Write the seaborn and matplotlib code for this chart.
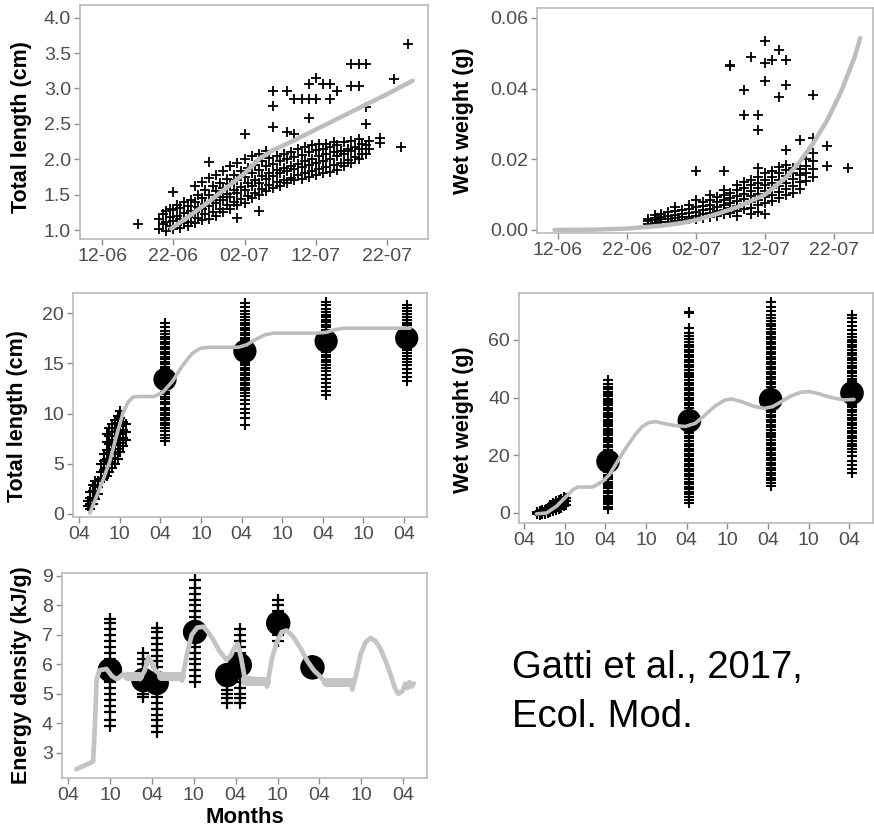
import matplotlib
matplotlib.use("Agg")
import matplotlib.pyplot as plt
import numpy as np
import pandas as pd
import seaborn as sns

# ---------------- Panel A: juvenile total length (cm) vs date (days after 12 June)
tl_days = [5, 8, 8.5, 9, 9.5, 10, 10.5, 11, 11.5, 12, 12.5, 13, 13.5, 14, 14.5, 15, 15.5,
           16, 16.5, 17, 17.5, 18, 18.5, 19, 19.5, 20, 20.5, 21, 21.5, 22, 22.5, 23, 23.5,
           24, 24.5, 25, 25.5, 26, 26.5, 27, 27.5, 28, 28.5, 29, 29.5, 30, 30.5, 31, 31.5,
           32, 32.5, 33, 33.5, 34, 34.5, 35, 35.5, 36, 36.5, 37, 37.5, 39, 41, 42, 43]
tl_values = [
    [1.09],
    [1.02, 1.15], [1.08, 1.22],
    [0.99, 1.12, 1.27], [1.05, 1.18, 1.30],
    [1.01, 1.13, 1.28, 1.54], [1.07, 1.20, 1.35],
    [1.03, 1.16, 1.31], [1.10, 1.24, 1.40],
    [1.06, 1.19, 1.34], [1.12, 1.27, 1.43],
    [1.10, 1.25, 1.40, 1.62], [1.17, 1.32, 1.50],
    [1.14, 1.30, 1.45, 1.68], [1.22, 1.37, 1.57],
    [1.16, 1.34, 1.50, 1.74, 1.96], [1.25, 1.42, 1.62],
    [1.20, 1.38, 1.55, 1.78], [1.30, 1.46, 1.67],
    [1.26, 1.43, 1.60, 1.84], [1.35, 1.51, 1.72],
    [1.30, 1.47, 1.65, 1.90], [1.39, 1.56, 1.78],
    [1.17, 1.36, 1.52, 1.70, 1.95], [1.44, 1.61, 1.83],
    [1.38, 1.57, 1.75, 2.00, 2.36], [1.48, 1.66, 1.88],
    [1.45, 1.62, 1.80, 2.04], [1.53, 1.71, 1.92],
    [1.27, 1.50, 1.67, 1.85, 2.08], [1.58, 1.76, 1.97],
    [1.55, 1.72, 1.90, 2.12], [1.63, 1.80, 2.02],
    [1.60, 1.77, 1.94, 2.46, 2.75, 2.96], [1.68, 1.85, 2.04],
    [1.62, 1.80, 1.97], [1.71, 1.88, 2.07],
    [1.66, 1.83, 2.00, 2.38, 2.96], [1.74, 1.91, 2.10],
    [1.70, 1.86, 2.03, 2.35, 2.85], [1.78, 1.94, 2.14],
    [1.72, 1.89, 2.06, 2.85], [1.80, 1.97, 2.18],
    [1.75, 1.92, 2.10, 2.58, 2.85, 3.06], [1.83, 2.00, 2.20],
    [1.78, 1.95, 2.13, 2.85, 3.15], [1.86, 2.04, 2.22],
    [1.80, 1.98, 2.15, 3.06], [1.89, 2.07, 2.22],
    [1.82, 2.01, 2.18, 2.85, 3.06], [1.92, 2.10, 2.25],
    [1.85, 2.04, 2.20, 2.96], [1.95, 2.12],
    [1.90, 2.08, 2.24], [1.99, 2.15],
    [1.95, 2.11, 2.26, 3.34, 3.04], [2.03, 2.18],
    [2.00, 2.15, 2.28, 3.34, 3.04], [2.08, 2.22],
    [2.08, 2.20, 3.34, 2.74, 2.50], [2.14, 2.26],
    [2.23, 2.30],
    [3.14],
    [2.18],
    [3.63],
]
tl_fit_day = [9.7, 12, 15, 18, 20, 22, 24, 26, 30, 35, 40, 43.6]
tl_fit_len = [1.02, 1.18, 1.40, 1.64, 1.80, 2.00, 2.13, 2.22, 2.42, 2.67, 2.92, 3.11]

# ---------------- Panel B: juvenile wet weight (g) vs date
ww_days = [13, 14, 15, 16, 17, 18, 19, 20, 21, 22, 23, 24, 25, 26, 27, 28, 29, 30,
           31, 32, 33, 34, 35, 36, 37, 39, 42]
ww_values = [
    [0.0018, 0.0025, 0.0032],
    [0.0020, 0.0028, 0.0035, 0.0042],
    [0.0022, 0.0030, 0.0038, 0.0046],
    [0.0024, 0.0032, 0.0040, 0.0050],
    [0.0026, 0.0034, 0.0043, 0.0055, 0.0065],
    [0.0028, 0.0036, 0.0045, 0.0056],
    [0.0030, 0.0038, 0.0048, 0.0060, 0.0072],
    [0.0032, 0.0041, 0.0052, 0.0064, 0.0085, 0.0166],
    [0.0035, 0.0045, 0.0056, 0.0068, 0.0080],
    [0.0038, 0.0049, 0.0060, 0.0072, 0.0086, 0.0100],
    [0.0041, 0.0053, 0.0065, 0.0078, 0.0092],
    [0.0045, 0.0057, 0.0070, 0.0084, 0.0098, 0.0112, 0.0166],
    [0.0049, 0.0062, 0.0075, 0.0090, 0.0105, 0.0463, 0.0466],
    [0.0040, 0.0054, 0.0068, 0.0082, 0.0096, 0.0112, 0.0128],
    [0.0058, 0.0073, 0.0088, 0.0103, 0.0118, 0.0135, 0.0397, 0.0326],
    [0.0045, 0.0063, 0.0079, 0.0095, 0.0110, 0.0126, 0.0142, 0.0489],
    [0.0050, 0.0070, 0.0086, 0.0102, 0.0118, 0.0134, 0.0150, 0.0326, 0.0283, 0.0175],
    [0.0045, 0.0076, 0.0093, 0.0110, 0.0126, 0.0142, 0.0160, 0.0536, 0.0473, 0.0422],
    [0.0082, 0.0100, 0.0118, 0.0134, 0.0150, 0.0168, 0.0480],
    [0.0090, 0.0108, 0.0125, 0.0142, 0.0160, 0.0178, 0.0508, 0.0375],
    [0.0098, 0.0116, 0.0134, 0.0152, 0.0170, 0.0185, 0.0480, 0.0409, 0.0227],
    [0.0106, 0.0125, 0.0143, 0.0160, 0.0176],
    [0.0115, 0.0135, 0.0155, 0.0172, 0.0255],
    [0.0140, 0.0160, 0.0180, 0.0200],
    [0.0150, 0.0172, 0.0195, 0.0217, 0.0260, 0.0383],
    [0.0238, 0.0181],
    [0.0175],
]
ww_fit_day = [-0.5, 5, 10, 15, 18, 20, 23, 26, 30, 33, 35, 37, 39, 41, 43, 43.8]
ww_fit_val = [0.0, 0.0001, 0.0004, 0.0012, 0.0020, 0.0028, 0.0045, 0.0065, 0.0100,
              0.0148, 0.0192, 0.0246, 0.031, 0.039, 0.049, 0.0543]

date_ticks = [0, 10, 20, 30, 40]
date_labels = ["12-06", "22-06", "02-07", "12-07", "22-07"]

# ---------------- Panel C: total length (cm) over months (0 = first April)
tlm_young_month = [1.3, 1.6, 2.0, 2.4, 2.8, 3.3, 3.7, 4.1, 4.5, 4.9, 5.3, 5.7, 6.1, 6.5, 6.9]
tlm_young_vals = [
    [0.8, 1.3],
    [0.5, 1.0, 1.6, 2.2],
    [1.0, 1.6, 2.3, 2.9],
    [1.5, 2.2, 2.8, 3.3],
    [2.0, 2.7, 3.3],
    [3.5, 4.2, 5.0],
    [3.6, 4.4, 5.3, 6.0],
    [3.8, 4.6, 5.5, 6.4, 7.2, 8.0],
    [4.2, 5.2, 6.1, 7.0, 7.8, 8.6],
    [4.6, 5.6, 6.5, 7.4, 8.2, 9.0],
    [5.0, 6.0, 6.9, 7.8, 8.6, 9.4],
    [5.5, 6.5, 7.4, 8.3, 9.1, 9.8],
    [6.2, 7.1, 8.0, 8.8, 9.6, 10.3],
    [6.8, 7.6, 8.4, 9.2],
    [7.4, 8.2, 9.0],
]
tlm_adult_month = [12.7, 24.5, 36.5, 48.4]
tlm_adult_vals = [
    [7.3, 7.6, 7.9, 8.3, 8.6, 8.9, 9.1, 9.4, 9.6, 9.9, 10.1, 10.4, 10.6, 10.9, 11.1, 11.4,
     11.6, 11.9, 12.1, 12.4, 12.6, 12.9, 13.1, 13.4, 13.6, 13.9, 14.1, 14.4, 14.6, 14.9,
     15.1, 15.4, 15.6, 15.9, 16.1, 16.4, 16.6, 16.9, 17.1, 17.4, 17.6, 17.9, 18.2, 18.6, 19.0],
    [8.9, 9.6, 10.1, 10.5, 10.9, 11.3, 11.7, 12.0, 12.3, 12.5, 12.8, 13.0, 13.3, 13.5, 13.8,
     14.0, 14.3, 14.5, 14.8, 15.0, 15.3, 15.5, 15.8, 16.0, 16.3, 16.5, 16.8, 17.0, 17.3,
     17.5, 17.8, 18.0, 18.3, 18.5, 18.8, 19.0, 19.3, 19.6, 19.9, 20.2, 20.6, 21.0],
    [11.8, 12.2, 12.6, 13.0, 13.4, 13.8, 14.2, 14.5, 14.8, 15.1, 15.3, 15.6, 15.8, 16.1,
     16.3, 16.6, 16.8, 17.1, 17.3, 17.6, 17.8, 18.1, 18.3, 18.6, 18.8, 19.1, 19.3, 19.6,
     19.8, 20.1, 20.4, 20.8, 21.1],
    [13.2, 13.6, 14.0, 14.4, 14.8, 15.1, 15.4, 15.7, 16.0, 16.3, 16.5, 16.8, 17.0, 17.3,
     17.5, 17.8, 18.0, 18.3, 18.5, 18.8, 19.0, 19.3, 19.6, 19.9, 20.2, 20.5, 20.8],
]
tlm_mean = [13.4, 16.2, 17.2, 17.5]
tlm_fit_month = [1.6, 2.6, 3.56, 4.54, 5.51, 6.49, 7.22, 7.95, 8.93, 11.1, 12.34, 13.8, 15.27,
                 16.73, 17.95, 19.17, 23.56, 24.78, 26.0, 27.46, 28.68, 34.78, 36.5, 37.7,
                 39.17, 48.9]
tlm_fit_len = [0.1, 1.76, 3.42, 5.24, 7.73, 10.05, 11.1, 11.64, 11.7, 11.7, 12.1, 13.2, 14.76,
               16.0, 16.5, 16.6, 16.6, 16.85, 17.35, 17.84, 18.0, 18.0, 18.08, 18.34, 18.5, 18.5]

# ---------------- Panel D: wet weight (g) over months
wwm_young_month = [1.9, 2.3, 2.7, 3.1, 3.5, 3.9, 4.3, 4.7, 5.1, 5.5, 5.9, 6.2]
wwm_young_vals = [
    [-0.5, 0.3], [-0.8, 0.0, 0.8], [-0.5, 0.3, 1.0], [-0.3, 0.5, 1.2], [0.0, 0.8, 1.6],
    [0.3, 1.2, 2.0, 2.8], [0.6, 1.5, 2.5, 3.4], [1.0, 2.0, 3.0, 4.0], [1.4, 2.4, 3.5, 4.5],
    [1.8, 2.9, 4.0, 5.0], [2.3, 3.4, 4.5, 5.6], [2.8, 4.0, 5.2],
]
wwm_adult_month = [12.4, 24.4, 36.4, 48.4]
wwm_adult_vals = [
    [1.5, 2.2, 3.0, 3.7, 4.5, 5.3, 6.0, 6.8, 7.7, 8.5, 9.2, 10.0, 10.9, 11.7, 12.4, 13.2,
     14.1, 14.9, 15.6, 16.4, 17.3, 18.1, 18.8, 19.6, 20.5, 21.3, 22.0, 22.8, 23.7, 24.5,
     25.2, 26.0, 26.9, 27.7, 28.4, 29.2, 30.1, 30.9, 31.6, 32.4, 33.3, 34.1, 34.8, 35.6,
     36.5, 37.3, 38.0, 38.8, 39.7, 40.5, 41.2, 42.0, 42.9, 43.8, 44.9, 46.0],
    [3.5, 4.6, 5.6, 6.5, 7.4, 8.3, 9.1, 10.0, 10.9, 11.8, 12.7, 13.5, 14.4, 15.3, 16.2,
     17.1, 17.9, 18.8, 19.7, 20.6, 21.5, 22.3, 23.2, 24.1, 25.0, 25.9, 26.7, 27.6, 28.5,
     29.4, 30.3, 31.1, 32.0, 32.9, 33.8, 34.7, 35.5, 36.4, 37.3, 38.2, 39.1, 39.9, 40.8,
     41.7, 42.6, 43.5, 44.3, 45.2, 46.1, 47.0, 47.9, 48.7, 49.6, 50.5, 51.4, 52.3, 53.1,
     54.0, 54.9, 55.8, 56.7, 57.5, 58.4, 59.3, 60.3, 61.4, 62.6, 64.2, 69.4, 69.8],
    [9.2, 10.3, 11.3, 12.2, 13.1, 13.9, 14.8, 15.7, 16.6, 17.4, 18.3, 19.2, 20.1, 20.9,
     21.8, 22.7, 23.6, 24.4, 25.3, 26.2, 27.1, 27.9, 28.8, 29.7, 30.6, 31.4, 32.3, 33.2,
     34.1, 34.9, 35.8, 36.7, 37.6, 38.4, 39.3, 40.2, 41.1, 41.9, 42.8, 43.7, 44.6, 45.4,
     46.3, 47.2, 48.1, 48.9, 49.8, 50.7, 51.6, 52.4, 53.3, 54.2, 55.1, 55.9, 56.8, 57.7,
     58.6, 59.4, 60.3, 61.2, 62.1, 62.9, 63.8, 64.7, 65.6, 66.5, 67.5, 68.6, 70.0, 71.6, 73.2],
    [13.8, 15.2, 16.5, 18.0, 19.6, 21.0, 22.2, 23.2, 24.1, 25.0, 25.9, 26.8, 27.7, 28.6,
     29.5, 30.4, 31.3, 32.2, 33.1, 34.0, 34.9, 35.8, 36.7, 37.6, 38.5, 39.4, 40.3, 41.2,
     42.1, 43.0, 43.9, 44.8, 45.7, 46.6, 47.5, 48.4, 49.3, 50.2, 51.1, 52.0, 52.9, 53.8,
     54.7, 55.6, 56.5, 57.4, 58.3, 59.2, 60.1, 61.0, 62.2, 63.5, 64.8, 66.2, 67.5, 68.6],
]
wwm_mean = [17.9, 32.0, 39.3, 41.6]
wwm_fit_month = [1.85, 3.32, 4.78, 6.0, 7.22, 7.95, 10.15, 11.6, 12.59, 13.8, 15.02, 16.49,
                 17.46, 18.44, 19.41, 20.88, 22.34, 23.8, 25.27, 26.73, 28.2, 29.66, 30.63,
                 32.1, 34.05, 35.5, 36.7, 37.95, 39.4, 40.9, 42.1, 43.3, 45.3, 47.2, 48.7]
wwm_fit_val = [-0.3, 0.0, 2.3, 5.2, 8.07, 9.0, 9.0, 10.96, 13.26, 17.9, 22.5, 27.45, 30.0,
               31.37, 31.7, 30.9, 30.3, 30.0, 31.1, 34.0, 37.1, 39.2, 39.56, 38.6, 36.9, 36.3,
               36.9, 38.6, 40.6, 41.9, 42.1, 41.5, 40.1, 39.2, 39.4]

# ---------------- Panel E: energy density (kJ/g) over months
ed_month = [6.0, 10.8, 12.7, 18.2, 22.8, 24.6, 30.1, 35.0]
ed_vals = [
    [3.9, 4.1, 4.4, 4.6, 4.8, 5.0, 5.2, 5.4, 5.6, 5.8, 6.0, 6.2, 6.4, 6.6, 6.8, 7.0, 7.2, 7.4, 7.55],
    [4.9, 5.0, 5.2, 5.4, 5.6, 5.8, 6.0, 6.2, 6.4],
    [3.7, 3.9, 4.1, 4.3, 4.5, 4.7, 4.9, 5.1, 5.3, 5.5, 5.7, 5.9, 6.1, 6.3, 6.5, 6.7, 6.9, 7.1, 7.25],
    [5.4, 5.6, 5.8, 6.0, 6.2, 6.4, 6.6, 6.8, 7.0, 7.2, 7.4, 7.6, 7.8, 8.0, 8.2, 8.4, 8.6, 8.85],
    [4.7, 4.85, 5.0, 5.15, 5.3, 5.5, 5.7],
    [4.7, 4.85, 5.0, 5.2, 5.4, 5.6, 5.8, 6.0, 6.2, 6.4, 6.6, 6.8, 7.0, 7.2],
    [6.8, 7.0, 7.2, 7.4, 7.6, 7.8, 8.0, 8.2],
    [5.7, 5.9, 6.1],
]
ed_mean = [5.81, 5.47, 5.37, 7.1, 5.64, 5.98, 7.4, 5.9]
ed_fit_month = [1.2, 3.1, 3.6, 3.9, 4.1, 4.5, 5.5, 6.3, 7.0, 7.8, 8.5, 10.2, 10.3, 11.0, 11.5,
                12.0, 12.5, 13.2, 16.2, 16.3, 17.0, 17.7, 18.5, 19.4, 20.2, 20.8, 21.7, 22.7,
                23.3, 23.8, 24.3, 24.8, 25.3, 28.3, 28.5, 29.2, 29.9, 30.6, 31.3, 32.2, 33.3,
                34.3, 35.2, 36.0, 36.8, 40.5, 40.7, 41.3, 41.9, 42.6, 43.3, 44.0, 44.7, 45.5,
                46.2, 46.8, 47.3, 47.9, 48.3, 48.6, 48.9, 49.2, 49.5]
ed_fit_val = [2.45, 2.65, 2.72, 4.2, 5.5, 5.8, 5.85, 5.6, 5.5, 5.65, 5.64, 5.62, 5.5, 5.8, 6.25,
              6.05, 5.8, 5.65, 5.6, 5.45, 6.3, 7.0, 7.25, 7.28, 7.05, 6.83, 6.45, 6.15, 6.3,
              6.55, 6.7, 6.2, 5.55, 5.45, 5.25, 6.2, 6.75, 7.1, 7.15, 6.95, 6.55, 6.1, 5.8,
              5.62, 5.4, 5.4, 5.15, 5.7, 6.35, 6.75, 6.9, 6.8, 6.55, 6.1, 5.65, 5.2, 5.0, 5.1,
              5.35, 5.2, 5.4, 5.25, 5.35]
# plateaus where the simulated curve is noisy (drawn wider)
ed_band_start = [8.5, 13.3, 25.4, 37.0]
ed_band_end = [10.2, 16.2, 28.3, 40.5]
ed_band_level = [5.62, 5.6, 5.45, 5.4]

month_ticks = [0, 6, 12, 18, 24, 30, 36, 42, 48]
month_labels = ["04", "10", "04", "10", "04", "10", "04", "10", "04"]

# ================= style =================
sns.set_theme(style="white")
plt.rcParams['font.family'] = ['Liberation Sans', 'DejaVu Sans']
plt.rcParams.update({
    'axes.edgecolor': '#b5b5b5', 'axes.linewidth': 1.1,
    'xtick.color': '#8c8c8c', 'ytick.color': '#8c8c8c',
    'xtick.labelcolor': '#4d4d4d', 'ytick.labelcolor': '#4d4d4d',
    'xtick.major.size': 4, 'ytick.major.size': 4,
    'xtick.major.width': 1.0, 'ytick.major.width': 1.0,
    'xtick.major.pad': 2.5, 'ytick.major.pad': 2.5,
    'xtick.bottom': True, 'ytick.left': True,
    'xtick.labelsize': 14, 'ytick.labelsize': 14,
    'axes.labelsize': 15.5, 'axes.labelweight': 'bold', 'axes.labelcolor': 'black',
})

LINE = '#bdbdbd'


def flatten(keys, groups):
    xs, ys = [], []
    for k, g in zip(keys, groups):
        xs += [k] * len(g)
        ys += list(g)
    return xs, ys


def plus(ax, x, y, s=55, lw=1.4):
    sns.scatterplot(x=x, y=y, marker='+', s=s, color='black', linewidth=lw, ax=ax,
                    legend=False, zorder=2)


def dots(ax, x, y, s):
    sns.scatterplot(x=x, y=y, marker='o', s=s, color='black', edgecolor='none', ax=ax,
                    legend=False, zorder=3)


def curve(ax, x, y, lw, color=LINE):
    sns.lineplot(x=x, y=y, estimator=None, sort=False, color=color, lw=lw, ax=ax,
                 legend=False, zorder=4, solid_capstyle='round')


W, H = 874, 835
fig = plt.figure(figsize=(W / 100, H / 100), dpi=100)


def box(l, r, t, b):
    return fig.add_axes([l / W, 1 - b / H, (r - l) / W, (b - t) / H])


ax1 = box(80, 428, 5, 239)
ax2 = box(537, 873, 8, 233)
ax3 = box(73, 427, 293, 517)
ax4 = box(519, 873, 293, 523)
ax5 = box(62, 427, 573, 778)

# Panel A
x, y = flatten(tl_days, tl_values)
plus(ax1, x, y, s=58, lw=1.3)
curve(ax1, tl_fit_day, tl_fit_len, 3.2)
ax1.set_xlim(-3.1, 45.75)
ax1.set_ylim(0.873, 4.18)
ax1.set_xticks(date_ticks, date_labels)
ax1.set_yticks([1.0, 1.5, 2.0, 2.5, 3.0, 3.5, 4.0], ["1.0", "1.5", "2.0", "2.5", "3.0", "3.5", "4.0"])
ax1.set_ylabel("Total length (cm)")
ax1.yaxis.set_label_coords(-0.138, 0.48)

# Panel B
x, y = flatten(ww_days, ww_values)
plus(ax2, x, y, s=58, lw=1.3)
curve(ax2, ww_fit_day, ww_fit_val, 3.2)
ax2.set_xlim(-3.04, 45.65)
ax2.set_ylim(-0.00085, 0.0628)
ax2.set_xticks(date_ticks, date_labels)
ax2.set_yticks([0.0, 0.02, 0.04, 0.06], ["0.00", "0.02", "0.04", "0.06"])
ax2.set_ylabel("Wet weight (g)")
ax2.yaxis.set_label_coords(-0.1875, 0.5)

# Panel C
x, y = flatten(tlm_young_month, tlm_young_vals)
plus(ax3, x, y, s=62, lw=1.5)
x, y = flatten(tlm_adult_month, tlm_adult_vals)
plus(ax3, x, y, s=62, lw=1.5)
dots(ax3, tlm_adult_month, tlm_mean, 280)
curve(ax3, tlm_fit_month, tlm_fit_len, 2.6)
ax3.set_xlim(-0.89, 51.4)
ax3.set_ylim(-0.3, 22.0)
ax3.set_xticks(month_ticks, month_labels)
ax3.set_yticks([0, 5, 10, 15, 20])
ax3.set_ylabel("Total length (cm)")
ax3.yaxis.set_label_coords(-0.127, 0.45)

# Panel D
x, y = flatten(wwm_young_month, wwm_young_vals)
plus(ax4, x, y, s=62, lw=1.5)
x, y = flatten(wwm_adult_month, wwm_adult_vals)
plus(ax4, x, y, s=62, lw=1.5)
dots(ax4, wwm_adult_month, wwm_mean, 290)
curve(ax4, wwm_fit_month, wwm_fit_val, 2.6)
ax4.set_xlim(-0.74, 51.5)
ax4.set_ylim(-3.47, 76.3)
ax4.set_xticks(month_ticks, month_labels)
ax4.set_yticks([0, 20, 40, 60])
ax4.set_ylabel("Wet weight (g)")
ax4.yaxis.set_label_coords(-0.127, 0.45)

# Panel E
x, y = flatten(ed_month, ed_vals)
plus(ax5, x, y, s=64, lw=1.6)
dots(ax5, ed_month, ed_mean, 310)
curve(ax5, ed_fit_month, ed_fit_val, 3.4, color='#c4c4c4')
for s0, s1, lv in zip(ed_band_start, ed_band_end, ed_band_level):
    curve(ax5, [s0, s1], [lv, lv], 6.5, color='#c4c4c4')
ax5.set_xlim(-0.86, 51.4)
ax5.set_ylim(2.15, 9.1)
ax5.set_xticks(month_ticks, month_labels)
ax5.set_yticks([3, 4, 5, 6, 7, 8, 9])
ax5.set_ylabel("Energy density (kJ/g)")
ax5.yaxis.set_label_coords(-0.082, 0.5)
ax5.set_xlabel("Months", labelpad=2, fontsize=16)

for ax in (ax1, ax2, ax3, ax4):
    ax.set_xlabel("")

fig.text(512 / W, 1 - 678 / H, "Gatti et al., 2017,", fontsize=27.5, ha='left',
         va='baseline', color='black')
fig.text(512 / W, 1 - 727 / H, "Ecol. Mod.", fontsize=27.5, ha='left',
         va='baseline', color='black')

fig.savefig("out.png", dpi=100)
